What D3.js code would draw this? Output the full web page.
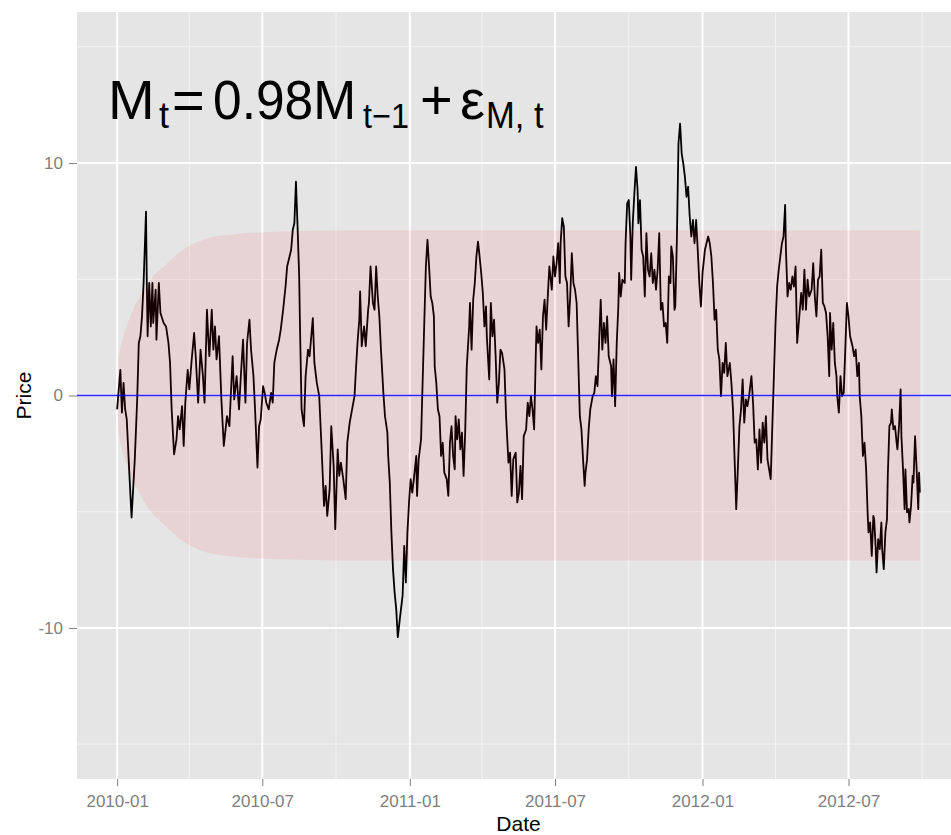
<!DOCTYPE html>
<html>
<head>
<meta charset="utf-8">
<script src="https://cdn.jsdelivr.net/npm/d3@7"></script>
<style>
  body { margin: 0; background: #fff; }
  text { font-family: "Liberation Sans", Arial, sans-serif; }
</style>
</head>
<body>
<svg id="chart" width="951" height="835"></svg>
<script>
// day offsets from the first date, and the simulated price
const startDate = "2010-01-01";
const obsDay = [
  0, 4, 6, 8, 10, 12, 15, 18, 22, 25, 27, 29, 31, 33, 36, 37, 38, 40, 42, 44, 45, 48, 49, 52, 54, 58, 61, 64, 66, 68,
  71, 74, 76, 78, 81, 83, 85, 88, 90, 93, 96, 98, 101, 104, 107, 109, 112, 114,
  115, 118, 120, 122, 124, 127, 130, 133, 137, 140, 144, 146, 149, 152, 154, 157, 160, 162, 165, 167,
  170, 172, 175, 177, 179, 182, 184, 186, 189, 192, 194, 196, 199, 202, 204, 207, 210, 212, 215, 217, 219, 221, 223, 225, 227,
  228, 230, 233, 235, 238, 240, 244, 246, 249, 252, 255, 258, 260, 262, 265, 267, 270, 272, 275, 277,
  279, 282, 285, 287, 290, 293, 296, 298, 300, 302, 303, 305, 308, 310, 313, 314, 316, 319, 321, 323,
  325, 327, 329, 332, 334, 337, 338, 340, 342, 344, 346, 348, 350,
  353, 356, 358, 360, 362, 364, 366, 368, 370, 373, 374, 376, 379, 380, 383, 385, 387, 389, 391, 393,
  395, 396, 398, 400, 402, 404, 406, 408, 411, 413, 415, 417, 419, 421, 422, 424, 426, 428, 430, 432,
  434, 436, 439, 440, 442, 444, 446, 448, 450, 452, 454, 456, 458, 460, 461, 464, 466, 468, 470, 472,
  474, 476, 478, 480, 483, 485,
  488, 490, 492, 494, 497, 499, 501, 503, 505, 507, 510, 512, 514, 516, 518, 520, 522, 523, 525, 527,
  529, 531, 533, 535, 537, 539, 542, 544, 546, 548, 550, 552, 553, 555, 557, 559, 561, 563, 565, 567,
  569, 571, 573, 575, 577, 579, 581, 583, 584, 586, 588, 590, 593, 595, 597, 599, 601, 603, 605, 607,
  609, 611, 613,
  616, 617, 619, 621, 623, 625, 626, 628, 630, 633, 634, 636, 638, 640, 641, 643, 645, 647, 649, 650,
  652, 654, 656, 658, 660, 662, 664, 666, 668, 670, 672, 674, 676, 678, 680, 682, 684, 686, 688, 690,
  691, 693, 695, 696, 698, 700, 702, 704, 706, 708, 710, 712, 714, 716, 718, 720, 722, 724, 726, 728,
  730, 733,
  737, 739, 741, 743, 745, 747, 749, 751, 753, 755, 757, 759, 761, 764, 766, 768, 770, 772, 774, 776,
  778, 780, 782, 784, 786, 788, 791, 793, 795, 797, 799, 801, 803, 805, 807, 809, 811, 813, 815, 817,
  819, 821, 823, 825, 827, 829, 831, 833, 834, 836, 838, 840, 842, 844, 846, 848,
  853, 855, 857, 859, 861, 863, 866, 868, 870, 872, 874, 876, 878, 880, 882, 884, 886, 888, 889, 891,
  893, 895, 897, 898, 900, 902, 904, 906, 908, 910, 912, 914, 917, 919, 921, 923, 925, 926, 928, 930,
  932, 934, 936, 937, 939, 941, 943, 944, 946, 947, 949, 951, 953, 954, 956, 958, 960, 961, 963, 965,
  966, 968, 970, 972, 973, 975, 977, 978, 980, 982, 983, 985, 987, 988, 990, 992, 993, 995, 997, 999,
  1000, 1001
];
const obsPrice = [
  -0.6, 1.1, -0.74, 0.54, -0.6, -1.03, -3.2, -5.25, -2.75, -0.17, 2.26, 2.55, 3.4, 4.84, 7.91, 4.84, 2.55, 4.84, 2.97, 4.84,
  3.12, 4.55, 2.4, 4.84, 3.55, 3.12, 2.97, 2.26, 1.4, -0.6, -2.53, -1.89, -0.89, -1.46, -0.46, -2.17, -0.3, 1.1, 0.26, 1.55,
  2.69, 1.69, -0.31, 1.97, 0.83, -0.31, 3.69, 2.26,
  1.69, 3.69, 1.97, 2.97, 1.55, 2.55, -0.17, -2.17, -0.89, -1.32, 1.69, -0.17, 0.83, -0.6, 0.69, 2.4, -0.31, 2.26, 3.26, 1.97,
  0.83, -0.6, -3.1, -1.32, -1.03, 0.4, 0.11, -0.31, -0.6, 0.11, -0.31, 1.4, 1.97, 2.4, 2.83, 3.69, 4.69, 5.55, 5.98, 6.27,
  7.12, 7.41, 9.2, 7.27, 5.12,
  3.0, -0.6, -1.32, 0.83, 1.97, 1.69, 3.33, 1.4, 0.54, -0.03, -2.32, -4.75, -3.89, -5.18, -4.03, -1.32, -3.03, -5.75, -2.32, -3.46,
  -2.89, -3.6, -4.46, -2.03, -1.17, -0.6, -0.03, 1.26, 2.4, 3.26, 4.48, 2.12, 2.97, 2.12, 3.69, 3.98, 5.55, 3.98, 3.69, 5.55,
  4.26, 3.4, 1.97, 0.11, -0.89, -1.6, -2.6, -3.75, -5.89, -7.47, -8.47, -9.18, -10.4,
  -9.47, -8.6, -6.47, -8.04, -5.89, -4.6, -3.6, -4.18, -3.6, -2.6, -4.32, -2.75, -1.89, -0.6, 3.12, 5.55, 6.7, 5.55, 4.26, 3.98,
  3.4, 1.26, 0.54, -0.6, -0.89, -2.6, -2.03, -3.32, -3.6, -4.32, -2.03, -1.32, -2.6, -3.18, -0.89, -1.89, -1.03, -2.32, -1.6, -3.46,
  -1.6, 1.26, 2.97, 3.98, 1.97, 4.12, 4.84, 5.98, 6.62, 5.98, 5.27, 4.41, 2.97, 3.83, 2.55, 0.69, 3.98, 2.55, 3.26, 1.69,
  -0.31, 0.54, 1.97, 1.83, 1.12, -0.89,
  -2.89, -2.46, -4.32, -2.75, -2.46, -4.6, -4.18, -3.03, -4.46, -1.75, -1.46, -0.31, -0.89, -0.03, -0.6, -1.46, 1.69, 2.97, 2.26, 2.83,
  1.12, 3.4, 4.12, 2.83, 4.26, 5.55, 4.55, 5.98, 5.12, 5.69, 6.55, 4.84, 6.55, 7.63, 7.27, 5.12, 4.84, 2.97, 4.26, 6.12,
  4.84, 4.55, 3.98, 1.55, -0.89, -1.46, -2.75, -3.89, -3.32, -2.75, -1.46, -0.6, -0.03, 0.11, 0.83, 0.4, 2.26, 4.12, 1.97, 3.12,
  2.26, 3.4, 1.69,
  1.26, -0.03, 1.55, -0.46, 2.26, 3.83, 5.27, 4.26, 4.98, 4.84, 6.55, 8.27, 8.41, 6.84, 4.98, 7.41, 8.7, 9.84, 8.84, 7.41,
  8.41, 6.27, 5.98, 4.26, 6.98, 5.41, 5.12, 6.12, 4.84, 5.41, 4.55, 5.41, 6.98, 3.69, 3.98, 2.97, 3.12, 2.26, 5.12, 4.84,
  6.41, 5.98, 3.69, 3.83, 6.7, 10.84, 11.7, 10.41, 9.98, 9.41, 8.55, 8.98, 7.7, 6.84, 7.55, 6.55, 7.55, 6.27, 4.84, 3.83,
  5.27, 6.27,
  6.84, 6.55, 5.98, 4.84, 3.26, 3.69, 1.97, 1.55, -0.03, 1.4, 0.97, 2.26, 0.83, 1.4, 0.54, -0.6, -2.75, -4.89, -3.18, -1.32,
  -0.6, 0.69, -1.17, -0.17, -0.46, -0.03, 0.83, -0.31, -2.03, -1.89, -3.18, -1.46, -2.89, -1.17, -2.03, -0.89, -2.75, -3.18, -3.6, -1.32,
  0.83, 3.12, 4.69, 5.41, 5.98, 6.55, 6.84, 8.2, 6.27, 4.26, 4.84, 4.55, 5.12, 4.69, 5.55, 2.26,
  4.41, 3.69, 5.41, 3.69, 4.98, 4.26, 4.55, 5.69, 4.26, 3.4, 4.98, 5.12, 6.27, 3.98, 3.83, 3.55, 2.55, 0.83, 3.55, 1.97,
  3.12, 1.4, 0.83, -0.03, -0.74, 0.83, -0.03, 0.11, 1.97, 3.98, 3.4, 2.55, 2.12, 1.69, 1.97, 0.83, 1.4, -0.03, -0.89, -2.6,
  -2.03, -3.18, -5.18, -5.89, -5.46, -6.9, -5.18, -5.32, -6.61, -7.61, -6.18, -6.61, -5.46, -6.61, -7.47, -5.89, -5.32, -3.46, -1.32, -1.17,
  -0.6, -1.46, -1.32, -2.03, -2.32, -1.32, 0.26, -1.75, -3.18, -4.89, -3.18, -5.03, -4.89, -5.46, -4.75, -3.46, -3.75, -1.75, -3.18, -4.89,
  -3.32, -4.18
];

// half width of the shaded band (days from start)
const bandDay = [0, 2, 6, 12, 20, 29, 41, 60, 82, 115, 150, 200, 280, 1001];
const bandHalf = [0, 1.6, 2.3, 3.0, 3.7, 4.3, 4.95, 5.6, 6.27, 6.78, 6.95, 7.05, 7.1, 7.1];

const xTickLabels = ["2010-01", "2010-07", "2011-01", "2011-07", "2012-01", "2012-07"];
const yTicks = [-10, 0, 10];
const yMinor = [-15, -5, 5, 15];

let width = 951, height = 835,
  panel = {left: 77, right: 960, top: 12, bottom: 779};

let t0 = d3.timeParse("%Y-%m-%d")(startDate);
let series = obsDay.map((d, i) => ({date: d3.timeDay.offset(t0, d), price: obsPrice[i]}));
let band = bandDay.map((d, i) => ({date: d3.timeDay.offset(t0, d), h: bandHalf[i]}));

let ext = d3.extent(series, d => d.date),
  pad = (ext[1] - ext[0]) * 0.05;

let x = d3.scaleTime()
  .domain([new Date(+ext[0] - pad), new Date(+ext[1] + pad)])
  .range([panel.left, panel.right]);
let y = d3.scaleLinear()
  .domain([-16.5, 16.5])
  .range([panel.bottom, panel.top]);

let svg = d3.select("#chart");

svg.append("defs").append("clipPath").attr("id", "clip")
  .append("rect")
  .attr("x", panel.left).attr("y", panel.top)
  .attr("width", panel.right - panel.left).attr("height", panel.bottom - panel.top);

let plot = svg.append("g").attr("clip-path", "url(#clip)");

plot.append("rect")
  .attr("x", panel.left).attr("y", panel.top)
  .attr("width", panel.right - panel.left).attr("height", panel.bottom - panel.top)
  .attr("fill", "#e5e5e5");

// minor grid
let xMajor = xTickLabels.map(d3.timeParse("%Y-%m"));
let xMinor = x.ticks(d3.timeMonth.every(3)).filter(d => d.getMonth() % 6 == 3);

plot.append("g").selectAll("line")
  .data(yMinor).enter().append("line")
  .attr("x1", panel.left).attr("x2", panel.right)
  .attr("y1", d => y(d)).attr("y2", d => y(d))
  .attr("stroke", "#f2f2f2").attr("stroke-width", 1);
plot.append("g").selectAll("line")
  .data(xMinor).enter().append("line")
  .attr("x1", d => x(d)).attr("x2", d => x(d))
  .attr("y1", panel.top).attr("y2", panel.bottom)
  .attr("stroke", "#f2f2f2").attr("stroke-width", 1);

// major grid
plot.append("g").selectAll("line")
  .data(yTicks).enter().append("line")
  .attr("x1", panel.left).attr("x2", panel.right)
  .attr("y1", d => y(d)).attr("y2", d => y(d))
  .attr("stroke", "#fff").attr("stroke-width", 2);
plot.append("g").selectAll("line")
  .data(xMajor).enter().append("line")
  .attr("x1", d => x(d)).attr("x2", d => x(d))
  .attr("y1", panel.top).attr("y2", panel.bottom)
  .attr("stroke", "#fff").attr("stroke-width", 2);

// price path
plot.append("path")
  .datum(series)
  .attr("d", d3.line().x(d => x(d.date)).y(d => y(d.price)))
  .attr("fill", "none")
  .attr("stroke", "#000")
  .attr("stroke-width", 1.8)
  .attr("stroke-linejoin", "round");

// shaded band on top
plot.append("path")
  .datum(band)
  .attr("d", d3.area()
    .x(d => x(d.date))
    .y0(d => y(-d.h))
    .y1(d => y(d.h))
    .curve(d3.curveMonotoneX))
  .attr("fill", "red")
  .attr("fill-opacity", 0.08);

// zero line
plot.append("line")
  .attr("x1", panel.left).attr("x2", panel.right)
  .attr("y1", y(0)).attr("y2", y(0))
  .attr("stroke", "#0000ff")
  .attr("stroke-opacity", 0.85)
  .attr("stroke-width", 1.3);

// axes
let gx = svg.append("g")
  .attr("transform", `translate(0, ${panel.bottom})`)
  .call(d3.axisBottom(x).tickValues(xMajor).tickFormat(d3.timeFormat("%Y-%m"))
    .tickSize(7).tickPadding(9));
let gy = svg.append("g")
  .attr("transform", `translate(${panel.left}, 0)`)
  .call(d3.axisLeft(y).tickValues(yTicks).tickFormat(d => String(d))
    .tickSize(8).tickPadding(6));

[gx, gy].forEach(g => {
  g.select(".domain").remove();
  g.selectAll(".tick line").attr("stroke", "#7f7f7f").attr("stroke-width", 1);
  g.selectAll(".tick text")
    .attr("fill", "#7f7f7f")
    .style("font-family", '"Liberation Sans", Arial, sans-serif')
    .style("font-size", "17px");
});

svg.append("text")
  .attr("x", (panel.left + panel.right) / 2)
  .attr("y", 831)
  .attr("text-anchor", "middle")
  .style("font-size", "21px")
  .text("Date");

svg.append("text")
  .attr("transform", `translate(31, ${(panel.top + panel.bottom) / 2}) rotate(-90)`)
  .attr("text-anchor", "middle")
  .style("font-size", "21px")
  .text("Price");

// model annotation, pieces squeezed horizontally where the source face was narrower
let eq = svg.append("g").attr("fill", "#000");
let parts = [
  {t: "M", x: 108, y: 119, s: 56, sx: 1},
  {t: "t", x: 159, y: 128, s: 36, sx: 1},
  {t: "=", x: 172, y: 119, s: 56, sx: 1},
  {t: "0.98M", x: 213, y: 119, s: 56, sx: 0.92},
  {t: "t\u22121", x: 363, y: 128, s: 36, sx: 0.9},
  {t: "+", x: 420, y: 119, s: 56, sx: 1},
  {t: "\u03b5", x: 460, y: 119, s: 56, sx: 1},
  {t: "M, t", x: 486, y: 128, s: 36, sx: 0.96}
];
eq.selectAll("text")
  .data(parts).enter().append("text")
  .attr("transform", d => `translate(${d.x}, ${d.y}) scale(${d.sx}, 1)`)
  .style("font-size", d => d.s + "px")
  .text(d => d.t);
</script>
</body>
</html>
